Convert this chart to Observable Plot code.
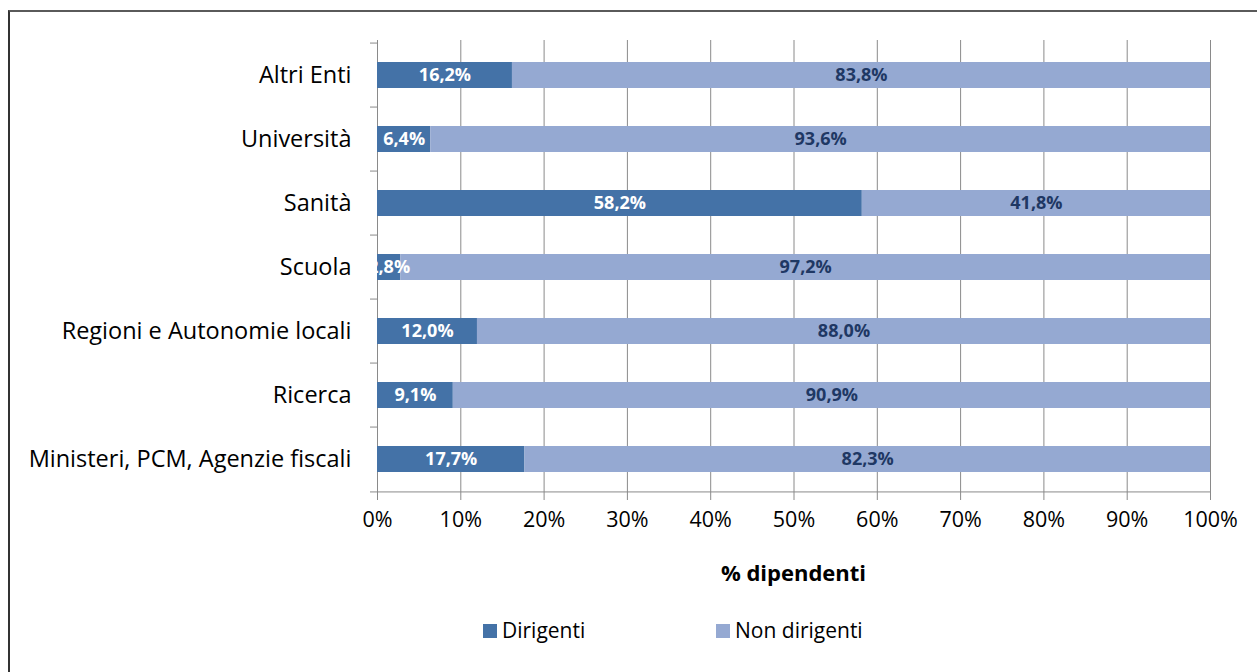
<!DOCTYPE html>
<html>
<head>
<meta charset="utf-8">
<script src="https://cdn.jsdelivr.net/npm/d3@7"></script>
<script src="https://cdn.jsdelivr.net/npm/@observablehq/plot@0.6"></script>
<style>
  html, body { margin: 0; padding: 0; background: #fff; overflow: hidden; width: 1257px; height: 672px; }
  #frame { position: absolute; left: 8px; top: 10px; width: 1400px; height: 800px;
           border-top: 2px solid #5a5a5a; border-left: 2px solid #333; }
  #chart { position: absolute; left: 0; top: 0; }
  .lab { position: absolute; font-family: "Open Sans", sans-serif; color: #000; white-space: nowrap; }
  #xtitle { left: 0; width: 1587px; top: 557px; text-align: center; font-size: 22px; font-weight: bold; }
  .sw { position: absolute; width: 14px; height: 14px; }
</style>
</head>
<body>
<div id="frame"></div>
<div id="chart"></div>
<div id="xtitle" class="lab">% dipendenti</div>
<div id="legend"></div>
<script>
const categories = ["Altri Enti", "Università", "Sanità", "Scuola", "Regioni e Autonomie locali", "Ricerca", "Ministeri, PCM, Agenzie fiscali"];
const series = ["Dirigenti", "Non dirigenti"];
const dirigenti = [16.2, 6.4, 58.2, 2.8, 12.0, 9.1, 17.7];
const nonDirigenti = [83.8, 93.6, 41.8, 97.2, 88.0, 90.9, 82.3];
const xTicks = [0, 10, 20, 30, 40, 50, 60, 70, 80, 90, 100];
const colors = ["#4472A7", "#95A9D2"];
const labelColors = ["#ffffff", "#1F3864"];

const data = [];
categories.forEach((c, i) => {
  data.push({cat: c, series: series[0], value: dirigenti[i]});
  data.push({cat: c, series: series[1], value: nonDirigenti[i]});
});

const W = 1257, H = 600, mL = 377, mR = 47, mT = 40, mB = 106;
const step = (H - mT - mB) / categories.length;
const font = "'Open Sans', sans-serif";
const fmt = v => v.toFixed(1).replace(".", ",") + "%";

const chart = Plot.plot({
  width: W, height: H,
  marginLeft: mL, marginRight: mR, marginTop: mT, marginBottom: mB,
  style: {fontFamily: font, fontSize: "21px", color: "#000", background: "transparent", overflow: "visible"},
  x: {domain: [0, 100], label: null},
  y: {domain: categories, paddingInner: 0.6, paddingOuter: 0.3, label: null},
  color: {domain: series, range: colors},
  marks: [
    Plot.gridX(xTicks, {stroke: "#8a8a8a", strokeOpacity: 1, strokeWidth: 1}),
    Plot.barX(data, {x: "value", y: "cat", fill: "series"}),
    Plot.text(data, Plot.stackX({
      x: "value", y: "cat", z: "series",
      text: d => fmt(d.value),
      fill: d => labelColors[series.indexOf(d.series)],
      fontWeight: "bold", fontSize: 18, clip: true
    })),
    // category boundary ticks on the left
    Plot.ruleY(categories, {y: d => d, x1: 0, x2: 0, insetLeft: -7, dy: -step / 2, stroke: "#8a8a8a"}),
    // bottom axis line
    Plot.ruleY([categories[categories.length - 1]], {y: d => d, insetLeft: -7, dy: step / 2, stroke: "#8a8a8a"}),
    Plot.axisX(xTicks, {tickSize: 6, tickPadding: 11, tickFormat: d => d + "%", stroke: "#8a8a8a", fill: "#000", fontSize: 21.5, label: null}),
    Plot.axisY({tickSize: 0, tickPadding: 26, fontSize: 23.5, fill: "#000", label: null})
  ]
});
document.getElementById("chart").appendChild(chart);

// legend
const legend = document.getElementById("legend");
const legendPos = [483, 716];
series.forEach((s, i) => {
  const sw = document.createElement("div");
  sw.className = "sw";
  sw.style.left = legendPos[i] + "px";
  sw.style.top = "624px";
  sw.style.background = colors[i];
  legend.appendChild(sw);
  const t = document.createElement("div");
  t.className = "lab";
  t.style.left = (legendPos[i] + 19) + "px";
  t.style.top = "616px";
  t.style.fontSize = "21px";
  t.textContent = s;
  legend.appendChild(t);
});
</script>
</body>
</html>
